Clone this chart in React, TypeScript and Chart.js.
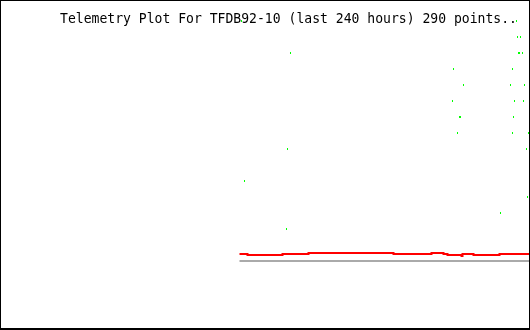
import React, { useEffect, useRef } from "react";
import { Chart, registerables } from "chart.js";

Chart.register(...registerables);

const titleText = "Telemetry Plot For TFDB92-10 (last 240 hours) 290 points..";

// sample index (0..289) where the red trace changes level, and its value there
const redX = [0, 8, 43, 69, 154, 192, 204, 208, 222, 223, 234, 260, 290];
const redY = [0.4375, 0.375, 0.4375, 0.5, 0.4375, 0.5, 0.4375, 0.375, 0.3125, 0.4375, 0.375, 0.4375, 0.4375];

// baseline trace
const greyX = [0, 290];
const greyY = [0, 0];

// sparse green samples
const greenX = [2, 277, 278, 281, 279, 280, 283, 51, 214, 273, 224, 271, 285, 213, 275, 284, 220, 221, 274, 218, 273, 289, 48, 287, 5, 288, 261, 47];
const greenY = [15, 15, 14, 14, 13, 13, 13, 13, 12, 12, 11, 11, 11, 10, 10, 10, 9, 9, 9, 8, 8, 8, 7, 7, 5, 4, 3, 2];

export default function App() {
  const ref = useRef<HTMLCanvasElement | null>(null);

  useEffect(() => {
    if (!ref.current) return;
    const dot = document.createElement("canvas");
    dot.width = 1;
    dot.height = 2;
    const dctx = dot.getContext("2d")!;
    dctx.fillStyle = "#00ff00";
    dctx.fillRect(0, 0, 1, 2);

    const framePlugin = {
      id: "frame",
      beforeDatasetsDraw(chart: any) {
        const ctx = chart.ctx;
        ctx.imageSmoothingEnabled = false;
        ctx.save();
        ctx.fillStyle = "#000000";
        ctx.font = "14px 'DejaVu Sans Mono'";
        ctx.textBaseline = "alphabetic";
        ctx.textAlign = "left";
        ctx.fillText(titleText, 60, 23, 457);
        ctx.restore();
      },
      afterDraw(chart: any) {
        const ctx = chart.ctx;
        ctx.save();
        ctx.fillStyle = "#000000";
        ctx.fillRect(0, 0, 530, 1);
        ctx.fillRect(0, 0, 1, 330);
        ctx.fillRect(529, 0, 1, 330);
        ctx.fillRect(0, 328, 530, 2);
        ctx.restore();
      },
    };

    const chart = new Chart(ref.current, {
      type: "line",
      data: {
        datasets: [
          {
            data: greyX.map((x, i) => ({ x, y: greyY[i] })),
            borderColor: "#aaaaaa",
            borderWidth: 2,
            pointRadius: 0,
          },
          {
            data: redX.map((x, i) => ({ x, y: redY[i] })),
            borderColor: "#ff0000",
            borderWidth: 2,
            pointRadius: 0,
            stepped: true,
          },
          {
            data: greenX.map((x, i) => ({ x, y: greenY[i] })),
            showLine: false,
            pointStyle: dot as any,
            pointRadius: 1,
            borderWidth: 0,
            backgroundColor: "#00ff00",
          },
        ],
      },
      options: {
        animation: false,
        responsive: false,
        devicePixelRatio: 1,
        layout: { padding: 0, autoPadding: false },
        plugins: { legend: { display: false }, title: { display: false }, tooltip: { enabled: false } },
        scales: {
          x: { type: "linear", min: -239.5, max: 290.5, display: false },
          y: { type: "linear", min: -4.3125, max: 16.3125, display: false },
        },
      },
      plugins: [framePlugin],
    });
    return () => chart.destroy();
  }, []);

  return (
    <div style={{ position: "fixed", left: 0, top: 0, width: 530, height: 330, background: "#ffffff" }}>
      <canvas ref={ref} width={530} height={330} />
    </div>
  );
}
